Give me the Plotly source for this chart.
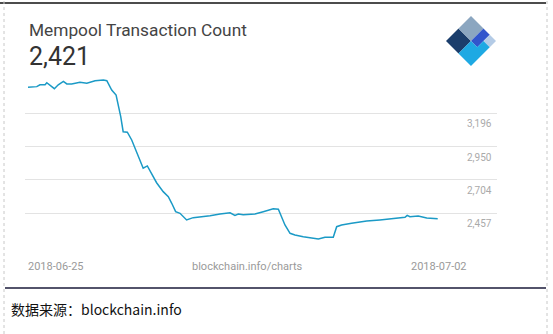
import plotly.graph_objects as go

W, H = 553, 334

# Data (hours since 2018-06-25 00:00, mempool transaction count)
hours = [0, 3.6, 4.9, 7.0, 7.7, 9.0, 10.8, 12.4, 14.5, 15.9, 17.9, 21.3, 24.1, 27.5,
         30.9, 32.3, 34.3, 36.1, 36.9, 38.0, 39.0, 40.7, 42.5, 44.5, 47.2, 48.9,
         50.7, 52.7, 55.4, 57.5, 58.9, 60.5, 62.3, 65.0, 67.7, 71.8, 74.6, 78.7,
         82.8, 84.8, 86.2, 88.2, 93.0, 96.4, 100.5, 102.6, 103.3, 105.3, 107.4,
         109.4, 112.8, 119.0, 121.7, 125.1, 126.5, 128.5, 132.6, 138.8, 144.2,
         150.4, 152.4, 154.5, 155.4, 156.5, 159.9, 163.4, 167.9]
counts = [3388, 3393, 3407, 3407, 3422, 3403, 3378, 3407, 3432, 3413, 3413, 3425,
          3418, 3437, 3442, 3437, 3368, 3331, 3272, 3171, 3060, 3056, 2999, 2912,
          2790, 2807, 2753, 2683, 2617, 2580, 2531, 2469, 2457, 2408, 2425, 2432,
          2439, 2452, 2461, 2442, 2452, 2447, 2452, 2469, 2491, 2487, 2457, 2371,
          2309, 2297, 2284, 2267, 2280, 2280, 2358, 2371, 2383, 2400, 2408, 2417,
          2425, 2427, 2442, 2432, 2437, 2422, 2417]

grid_vals = [2211, 2457, 2704, 2950, 3196]
tick_labels = ["", "2,457", "2,704", "2,950", "3,196"]
title = "Mempool Transaction Count"
current_value = "2,421"
start_label, end_label = "2018-06-25", "2018-07-02"
source_label = "blockchain.info/charts"
footer = "数据来源：blockchain.info"


def px(x):
    return x / W


def py(y):
    return 1 - y / H


fig = go.Figure()
fig.add_trace(go.Scatter(x=hours, y=counts, mode="lines",
                         line=dict(color="#1b9ac6", width=1.5),
                         hoverinfo="skip", showlegend=False))

fig.update_layout(
    width=W, height=H,
    margin=dict(l=0, r=0, t=0, b=0),
    paper_bgcolor="white", plot_bgcolor="white",
    xaxis=dict(domain=[px(25), px(497)], range=[-1.23, 192.2],
               showgrid=False, zeroline=False, showticklabels=False,
               showline=False, ticks=""),
    yaxis=dict(domain=[py(247), py(70)], range=[2208, 3516],
               tickvals=grid_vals, showticklabels=False,
               gridcolor="#e3e3e3", gridwidth=1, zeroline=False,
               showline=False, ticks=""),
    font=dict(family="Roboto", color="#444"),
)

annotations = []
for v, t in zip(grid_vals, tick_labels):
    if t:
        annotations.append(dict(x=px(494), xref="paper", xanchor="right",
                                y=v, yref="y", yanchor="top", yshift=-3,
                                text=t, showarrow=False,
                                font=dict(size=10, color="#aaaaaa", family="Roboto")))

annotations += [
    dict(x=px(27), y=py(30), xref="paper", yref="paper", xanchor="left", yanchor="middle",
         text=title, showarrow=False, font=dict(size=17.3, color="#444444", family="Roboto")),
    dict(x=px(26.5), y=py(57), xref="paper", yref="paper", xanchor="left", yanchor="middle",
         text=current_value, showarrow=False, font=dict(size=25, color="#333333", family="Roboto")),
    dict(x=px(26), y=py(266), xref="paper", yref="paper", xanchor="left", yanchor="middle",
         text=start_label, showarrow=False, font=dict(size=11, color="#9a9a9a", family="Roboto")),
    dict(x=px(247), y=py(266), xref="paper", yref="paper", xanchor="center", yanchor="middle",
         text=source_label, showarrow=False, font=dict(size=11, color="#9a9a9a", family="Roboto")),
    dict(x=px(469), y=py(266), xref="paper", yref="paper", xanchor="right", yanchor="middle",
         text=end_label, showarrow=False, font=dict(size=11, color="#9a9a9a", family="Roboto")),
    dict(x=px(9), y=py(309), xref="paper", yref="paper", xanchor="left", yanchor="middle",
         text=footer, showarrow=False, font=dict(size=14, color="#111111", family="Noto Sans CJK SC")),
]
fig.update_layout(annotations=annotations)

# Logo (rotated square split in parts)
cx, cy, r = 471, 41, 25
L, T, R, B = (cx - r, cy), (cx, cy - r), (cx + r, cy), (cx, cy + r)
C = (cx, cy)


def mid(a, b):
    return ((a[0] + b[0]) / 2, (a[1] + b[1]) / 2)


def poly(pts, color):
    d = "M " + " L ".join(f"{px(x):.5f},{py(y):.5f}" for x, y in pts) + " Z"
    return dict(type="path", xref="paper", yref="paper", path=d,
                fillcolor=color, line=dict(width=0), layer="above")


mLT, mTR, mRB, mBL = mid(L, T), mid(T, R), mid(R, B), mid(B, L)
qc = mid(C, R)  # centre of the R quadrant
shapes = [
    poly([L, mLT, C, mBL], "#1b3e6c"),
    poly([mLT, T, mTR, C], "#8ba6c0"),
    poly([C, mTR, mid(mTR, R), qc, mid(C, mRB)], "#3155cc"),
    poly([mid(mTR, R), R, mid(R, mRB), qc], "#b4cbe6"),
    poly([mBL, C, mid(C, mRB), qc, mid(R, mRB), mRB, B], "#1ea9e3"),
]

# Frame lines
shapes += [
    dict(type="line", xref="paper", yref="paper", x0=0, x1=px(546), y0=py(3), y1=py(3),
         line=dict(color="#111111", width=1.5)),
    dict(type="line", xref="paper", yref="paper", x0=px(5), x1=px(546), y0=py(288), y1=py(288),
         line=dict(color="#1a1a3a", width=1.5)),
    dict(type="line", xref="paper", yref="paper", x0=px(4), x1=px(4), y0=0, y1=1,
         line=dict(color="#c8c8c8", width=1, dash="dot")),
    dict(type="line", xref="paper", yref="paper", x0=px(547), x1=px(547), y0=0, y1=1,
         line=dict(color="#c8c8c8", width=1, dash="dot")),
]
fig.update_layout(shapes=shapes)

fig.write_html("out.html")
